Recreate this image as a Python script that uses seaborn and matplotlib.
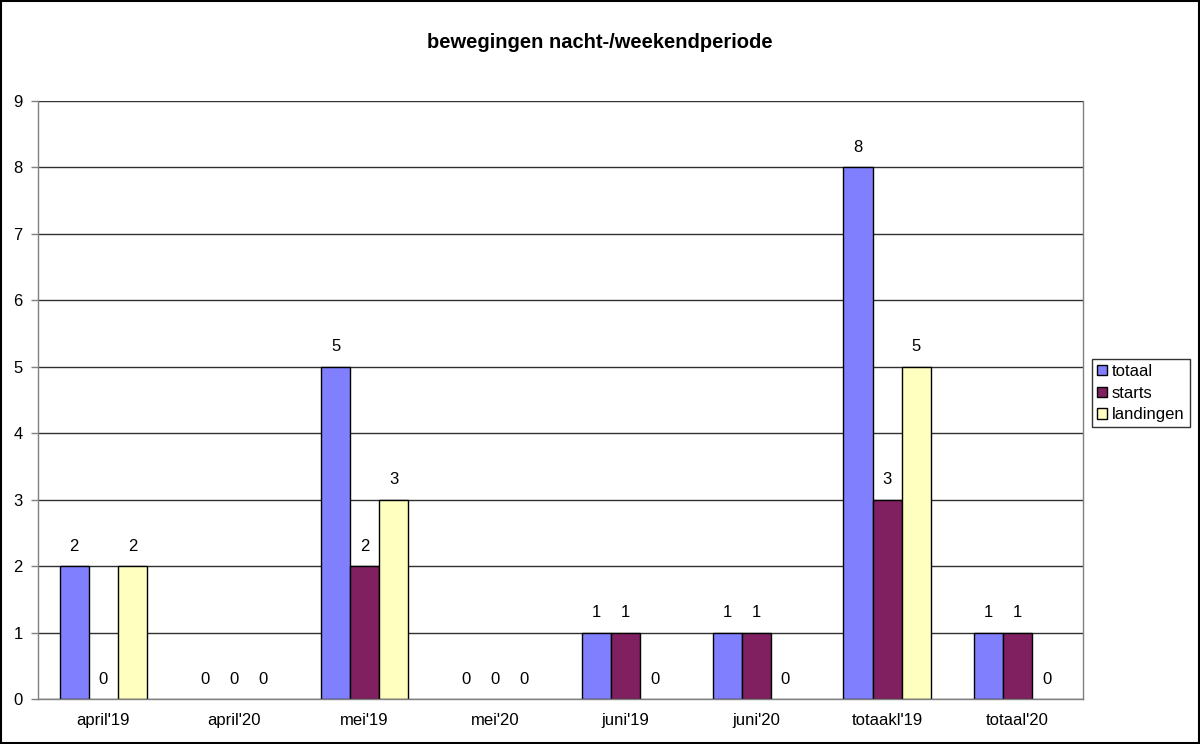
import seaborn as sns
import pandas as pd
import matplotlib.pyplot as plt
from matplotlib.patches import Rectangle

sns.set_theme(style="white")
plt.rcParams['font.family'] = ['Liberation Sans', 'DejaVu Sans']
plt.rcParams['text.color'] = 'black'
plt.rcParams['xtick.color'] = 'black'
plt.rcParams['ytick.color'] = 'black'

categories = ["april'19", "april'20", "mei'19", "mei'20", "juni'19", "juni'20", "totaakl'19", "totaal'20"]
totaal = [2, 0, 5, 0, 1, 1, 8, 1]
starts = [0, 0, 2, 0, 1, 1, 3, 1]
landingen = [2, 0, 3, 0, 0, 0, 5, 0]
series = ["totaal", "starts", "landingen"]
colors = ["#8080FF", "#802060", "#FFFFC0"]

rows = []
for name, vals in zip(series, [totaal, starts, landingen]):
    for c, v in zip(categories, vals):
        rows.append([c, v, name])
df = pd.DataFrame(rows, columns=["maand", "aantal", "soort"])

fig = plt.figure(figsize=(12, 7.44), dpi=100)
ax = fig.add_axes([38 / 1200, 45 / 744, 1045 / 1200, 598 / 744])

sns.barplot(data=df, x="maand", y="aantal", hue="soort", order=categories,
            hue_order=series, palette=colors, width=0.667, gap=0,
            edgecolor="black", linewidth=1, saturation=1, ax=ax, legend=False)

# zero bars show no outline in the original
for p in ax.patches:
    if p.get_height() == 0:
        p.set_linewidth(0)

for cont in ax.containers:
    ax.bar_label(cont, fmt="%d", padding=9, fontsize=12, color="black")

ax.set_xlim(-0.5, len(categories) - 0.5)
ax.set_ylim(0, 9)
ax.set_yticks(range(0, 10))
ax.yaxis.grid(True, color="#303030", linewidth=1)
ax.set_axisbelow(True)
ax.set_xlabel("")
ax.set_ylabel("")
ax.set_xticks([i - 0.5 for i in range(len(categories) + 1)], minor=True)
ax.tick_params(axis="x", which="major", length=0, labelsize=12, pad=10)
ax.tick_params(axis="x", which="minor", length=5, color="#808080", width=1, direction="out")
ax.tick_params(axis="y", length=5, color="#808080", width=1, direction="out", labelsize=12, left=True, pad=6)
for side in ["left", "bottom", "right"]:
    ax.spines[side].set_color("#808080")
    ax.spines[side].set_linewidth(1)
ax.spines["top"].set_visible(False)

fig.text(0.5, 1 - 43 / 744, "bewegingen nacht-/weekendperiode", ha="center", va="center",
         fontsize=14.5, fontweight="bold")

handles = [Rectangle((0, 0), 1, 1, facecolor=c, edgecolor="black", linewidth=1) for c in colors]
leg = fig.legend(handles, series, loc="upper left", bbox_to_anchor=(1092 / 1200, 1 - 359 / 744),
                 frameon=True, fancybox=False, fontsize=12, handlelength=0.6, handleheight=0.6,
                 handletextpad=0.3, borderpad=0.3, labelspacing=0.4, borderaxespad=0)
leg.get_frame().set_edgecolor("black")
leg.get_frame().set_linewidth(1)

fig.patches.append(Rectangle((0.001, 0.001), 0.998, 0.998, transform=fig.transFigure,
                             fill=False, edgecolor="black", linewidth=1.5))

fig.savefig("out.png", dpi=100, facecolor="white")
